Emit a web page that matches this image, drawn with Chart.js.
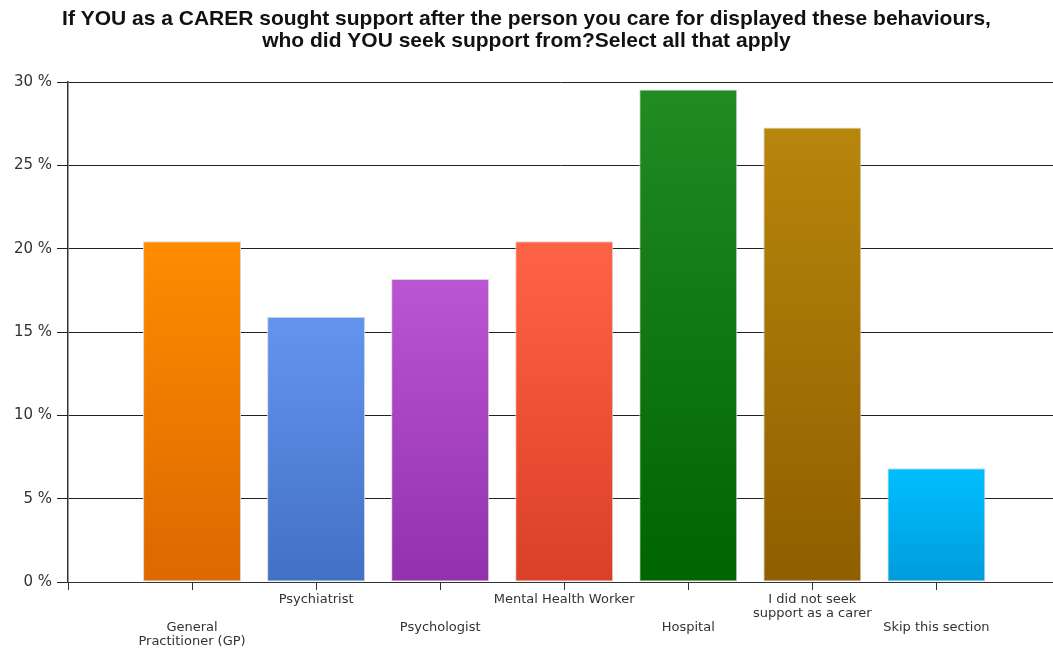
<!DOCTYPE html>
<html>
<head>
<meta charset="utf-8">
<script src="https://cdn.jsdelivr.net/npm/chart.js@4/dist/chart.umd.min.js"></script>
<style>
  html, body { margin: 0; padding: 0; background: #fff; overflow: hidden; }
  .chart-container { position: relative; width: 1053px; height: 648px; }
</style>
</head>
<body>
<div class="chart-container"><canvas id="myChart"></canvas></div>
<script>
const titleLines = [
  'If YOU as a CARER sought support after the person you care for displayed these behaviours,',
  'who did YOU seek support from?Select all that apply'
];
const categories = ['General Practitioner (GP)', 'Psychiatrist', 'Psychologist', 'Mental Health Worker', 'Hospital', 'I did not seek support as a carer', 'Skip this section'];
const percentages = [20.45, 15.91, 18.18, 20.45, 29.55, 27.27, 6.82];
// staggered axis labels, blank lines push every other one down a row
const tickLabels = [
  ['', '', 'General', 'Practitioner (GP)'],
  ['Psychiatrist'],
  ['', '', 'Psychologist'],
  ['Mental Health Worker'],
  ['', '', 'Hospital'],
  ['I did not seek', 'support as a carer'],
  ['', '', 'Skip this section']
];
const topColors = ['#FF8C00', '#6495ED', '#BA55D3', '#FF6347', '#228B22', '#B8860B', '#00BFFF'];
const bottomColors = ['#DC6800', '#4270C6', '#9331AC', '#DA4026', '#006400', '#8F5E00', '#009CDC'];
const yTicks = [0, 5, 10, 15, 20, 25, 30];

const positions = categories.map((c, i) => i + 1);

const barGradient = (ctx) => {
  const chart = ctx.chart;
  const area = chart.chartArea;
  if (!area || ctx.dataIndex === undefined) return topColors[0];
  const i = ctx.dataIndex;
  const top = chart.scales.y.getPixelForValue(percentages[i]);
  const g = chart.ctx.createLinearGradient(0, top, 0, area.bottom);
  g.addColorStop(0, topColors[i]);
  g.addColorStop(1, bottomColors[i]);
  return g;
};

const ctx = document.getElementById('myChart');
const myChart = new Chart(ctx, {
  type: 'bar',
  data: {
    datasets: [
      {
        label: 'Responses',
        data: positions.map((x, i) => ({ x: x, y: percentages[i] })),
        backgroundColor: barGradient,
        borderColor: '#d8d8d8',
        borderWidth: 1,
        borderSkipped: false,
        categoryPercentage: 1,
        barPercentage: 0.79
      }
    ]
  },
  options: {
    responsive: true,
    maintainAspectRatio: false,
    animation: false,
    layout: { padding: 0 },
    plugins: {
      legend: { display: false },
      tooltip: { enabled: false },
      title: {
        display: true,
        text: titleLines,
        color: '#111',
        font: { family: 'Liberation Sans', size: 21, weight: 'bold', lineHeight: 1.05 },
        padding: { top: 8.5, bottom: 29.4 }
      }
    },
    scales: {
      x: {
        type: 'linear',
        offset: false,
        min: 0,
        max: 7.94,
        afterBuildTicks: (scale) => {
          scale.ticks = [0].concat(positions).map((v) => ({ value: v }));
        },
        afterFit: (scale) => { scale.height = 66; },
        grid: { offset: false, drawOnChartArea: false, tickLength: 8, color: '#333', lineWidth: 1 },
        border: { color: '#333', width: 1 },
        ticks: {
          autoSkip: false,
          maxRotation: 0,
          padding: 2,
          color: '#333',
          font: { family: 'DejaVu Sans', size: 13, lineHeight: 1.1 },
          callback: (value) => tickLabels[value - 1] || ''
        }
      },
      y: {
        min: 0,
        max: 30,
        afterBuildTicks: (scale) => {
          scale.ticks = yTicks.map((v) => ({ value: v }));
        },
        afterFit: (scale) => { scale.width = 68; },
        grid: { color: '#222', lineWidth: 1, tickLength: 11 },
        border: { color: '#333', width: 1.5 },
        ticks: {
          padding: 5,
          color: '#333',
          font: { family: 'DejaVu Sans', size: 15 },
          callback: (value) => value + ' %'
        }
      }
    }
  }
});
</script>
</body>
</html>
